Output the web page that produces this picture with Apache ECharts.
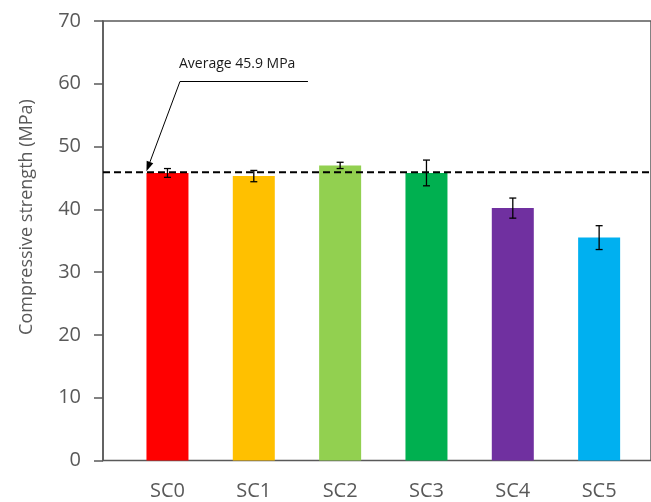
<!DOCTYPE html>
<html>
<head>
<meta charset="utf-8">
<script src="https://cdn.jsdelivr.net/npm/echarts@6/dist/echarts.min.js"></script>
<style>
  html, body { margin: 0; padding: 0; background: #fff; }
  #chart { width: 651px; height: 502px; }
</style>
</head>
<body>
<div id="chart"></div>
<script>
// Compressive strength of mixes SC0–SC5 with standard deviation
const categories = ['SC0', 'SC1', 'SC2', 'SC3', 'SC4', 'SC5'];
const strength = [45.8, 45.3, 47.0, 45.8, 40.2, 35.5];
const deviation = [0.7, 0.9, 0.5, 2.05, 1.6, 1.9];
const barColors = ['#FF0000', '#FFC000', '#92D050', '#00B050', '#7030A0', '#00B0F0'];
const average = 45.9;
const yTicks = { min: 0, max: 70, interval: 10 };
const yTitle = 'Compressive strength (MPa)';

const axisGray = '#595959';
const fontFamily = '"Open Sans", "Noto Sans", sans-serif';
const barWidth = 42;

const chart = echarts.init(document.getElementById('chart'), null, { renderer: 'canvas' });

const errorData = strength.map((v, i) => [i, v - deviation[i], v + deviation[i]]);

chart.setOption({
  animation: false,
  textStyle: { fontFamily },
  grid: [
    // frame grid: left axis, top border, bottom axis line, average line
    { left: 103, right: -10, top: 21, bottom: 41.5, show: true, borderColor: axisGray, borderWidth: 1.5, backgroundColor: 'transparent' },
    // bar grid
    { left: 124.3, right: 8.7, top: 21, bottom: 41.5 }
  ],
  xAxis: [
    { gridIndex: 0, type: 'value', min: 0, max: 1, show: false },
    {
      gridIndex: 1, type: 'category', data: categories,
      axisLine: { show: false }, axisTick: { show: false },
      axisLabel: { color: axisGray, fontSize: 20, margin: 21, fontFamily }
    }
  ],
  yAxis: [
    {
      gridIndex: 0, type: 'value', min: yTicks.min, max: yTicks.max, interval: yTicks.interval,
      axisLine: { show: true, lineStyle: { color: axisGray, width: 1.5 } },
      axisTick: { show: true, inside: false, length: 9, lineStyle: { color: axisGray, width: 1.5 } },
      splitLine: { show: false },
      axisLabel: { color: axisGray, fontSize: 20, margin: 22, fontFamily }
    },
    { gridIndex: 1, type: 'value', min: yTicks.min, max: yTicks.max, show: false }
  ],
  series: [
    {
      type: 'bar',
      xAxisIndex: 1, yAxisIndex: 1,
      barWidth: barWidth,
      data: strength.map((v, i) => ({ value: v, itemStyle: { color: barColors[i] } })),
      z: 2
    },
    {
      type: 'custom',
      xAxisIndex: 1, yAxisIndex: 1,
      data: errorData,
      z: 4,
      renderItem: function (params, api) {
        const lo = api.coord([api.value(0), api.value(1)]);
        const hi = api.coord([api.value(0), api.value(2)]);
        const cap = 3.5;
        const style = { stroke: '#000', lineWidth: 1.3 };
        return {
          type: 'group',
          children: [
            { type: 'line', shape: { x1: hi[0], y1: hi[1], x2: lo[0], y2: lo[1] }, style },
            { type: 'line', shape: { x1: hi[0] - cap, y1: hi[1], x2: hi[0] + cap, y2: hi[1] }, style },
            { type: 'line', shape: { x1: lo[0] - cap, y1: lo[1], x2: lo[0] + cap, y2: lo[1] }, style }
          ]
        };
      }
    },
    {
      type: 'line',
      xAxisIndex: 0, yAxisIndex: 0,
      data: [[0, average], [1, average]],
      symbol: 'none',
      lineStyle: { color: '#000', width: 2, type: [7, 4] },
      z: 5,
      silent: true
    }
  ]
});

// Callout pointing at the average line on the left edge of the first bar
const center0 = chart.convertToPixel({ xAxisIndex: 1, yAxisIndex: 1 }, [0, average]);
const tip = [center0[0] - barWidth / 2, center0[1] - 1];
const elbow = [tip[0] + 33.5, 81.5];
const lineEnd = [elbow[0] + 128, elbow[1]];
const dx = tip[0] - elbow[0], dy = tip[1] - elbow[1];
const len = Math.sqrt(dx * dx + dy * dy);
const ux = dx / len, uy = dy / len;
const headLen = 10, headHalf = 3.5;
const base = [tip[0] - ux * headLen, tip[1] - uy * headLen];
const head = [
  tip,
  [base[0] - uy * headHalf, base[1] + ux * headHalf],
  [base[0] + uy * headHalf, base[1] - ux * headHalf]
];

chart.setOption({
  graphic: [
    {
      type: 'polyline', z: 10,
      shape: { points: [lineEnd, elbow, base] },
      style: { stroke: '#000', lineWidth: 1, fill: null }
    },
    {
      type: 'polygon', z: 10,
      shape: { points: head },
      style: { fill: '#000' }
    },
    {
      type: 'text', z: 10,
      left: elbow[0] - 1, top: 57,
      style: { text: 'Average 45.9 MPa', fill: '#1a1a1a', font: '14px ' + fontFamily }
    },
    {
      // vertical axis title
      type: 'text', z: 10,
      x: 27, y: 217, rotation: Math.PI / 2,
      style: {
        text: yTitle, fill: axisGray, font: '18px ' + fontFamily,
        align: 'center', verticalAlign: 'middle'
      }
    }
  ]
});
</script>
</body>
</html>
